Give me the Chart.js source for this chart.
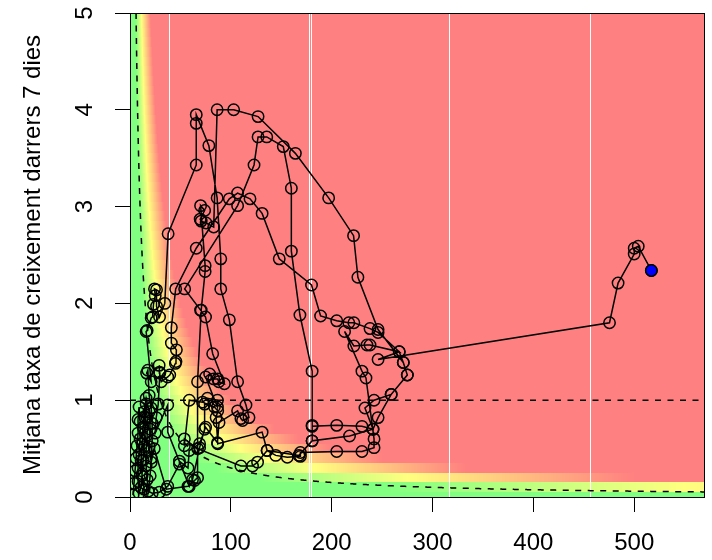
<!DOCTYPE html>
<html>
<head>
<meta charset="utf-8">
<script src="https://cdn.jsdelivr.net/npm/chart.js@4"></script>
<style>
  html, body { margin: 0; padding: 0; background: #fff; }
  canvas { display: block; }
</style>
</head>
<body>
<canvas id="riskChart" width="712" height="560"></canvas>
<script>
// axis ticks
const xTicks = [0, 100, 200, 300, 400, 500];
const yTicks = [0, 1, 2, 3, 4, 5];
const xMax = 570;
const yMax = 5;

// trajectory: incidence (x) and mean 7-day growth rate (y), in time order
const trajX = [
  3, 4, 5, 6, 7, 8, 8, 9, 10, 10, 9, 8, 8, 9, 11, 12, 13, 14, 15, 15, 16, 17, 17, 16, 16, 17, 18, 20, 21, 22, 22, 21, 19,
  17.7, 16.5, 21, 16, 17, 21, 22.4, 23.3, 25, 24.3, 26.3, 26.3, 29.3, 34.5, 37.8, 65.7, 65.7, 65.7, 78.2, 86.4, 90, 90,
  98.5, 106.7, 115, 118, 111.6, 110, 106.7, 88.3, 86.7, 75, 69, 58.7, 57.5, 49, 49, 37.4, 29.2, 22,
  14, 12, 11, 12, 13, 14, 16, 19, 20, 19, 21, 24, 36, 57.5, 64, 67,
  67, 70.6, 74.5, 74.5, 70, 74, 69.6, 70.6, 75.5, 83, 86.4, 102.8, 127, 164, 197, 221.7, 226, 246, 271, 275, 259, 242,
  233, 241, 230, 205, 180.6, 180.6, 167.5, 136, 131, 87, 85.4, 87, 83.7, 74, 74, 69, 62, 58.8, 37.4, 37.4, 25, 26, 28,
  29.6, 28.9, 29.3, 31, 37.4, 39.4, 45, 45.6, 46, 41, 41, 45.3, 65.7, 98.5, 106.7, 119, 131, 148, 180, 189, 205, 217,
  222, 238, 246, 267, 238, 235, 222, 212.8, 230, 234, 242, 242, 230, 205, 169, 169, 156, 144.5, 136, 126.5, 121.5, 110,
  67, 53.9, 53.9, 58.8, 72, 76.8, 86.7, 86.7, 75, 79, 83, 87, 88, 93.6, 82, 74.9, 70, 54.2,
  106.7, 123, 127, 135.6, 152, 160, 160, 168.5, 180.6, 180.6, 180.6, 217.7, 241, 246, 259, 275, 271, 267, 246,
  475.5, 484, 500, 500, 504, 517
];
const trajY = [
  0.02, 0.14, 0.27, 0.4, 0.53, 0.66, 0.8, 0.93, 0.78, 0.6, 0.44, 0.3, 0.16, 0.04, 0.1, 0.24, 0.38, 0.52, 0.66, 0.82, 0.96, 0.82, 0.64, 0.48, 0.32, 0.18, 0.06, 0.22, 0.4, 0.58, 0.76, 0.92, 1.05,
  1.31, 1.28, 1.19, 1.71, 1.72, 1.85, 1.86, 1.99, 2.08, 2.15, 2.14, 1.97, 1.86, 2.0, 2.72, 3.43, 3.86, 3.95, 3.63, 3.09, 2.46, 2.15,
  1.83, 1.19, 0.95, 0.82, 0.79, 0.81, 0.89, 0.77, 0.56, 0.72, 0.55, 0.48, 0.3, 0.37, 0.34, 0.11, 0.05, 0.04,
  0.08, 0.22, 0.38, 0.55, 0.72, 0.88, 1.02, 0.88, 0.7, 0.52, 0.36, 0.5, 0.08, 0.11, 0.17, 0.2,
  1.19, 1.93, 2.33, 2.39, 3.01, 2.96, 2.87, 2.85, 2.83, 2.79, 4.0, 4.0, 3.93, 3.55, 3.09, 2.7, 2.27, 1.73, 1.39, 1.26, 1.06, 1.0,
  0.92, 0.7, 0.73, 0.74, 0.73, 0.58, 0.43, 0.48, 0.67, 0.55, 0.82, 0.89, 0.93, 0.96, 0.7, 0.51, 0.18, 0.11, 0.67, 0.95, 0.66, 0.82, 0.96,
  1.28, 1.36, 1.29, 1.19, 1.24, 1.26, 1.38, 1.4, 1.52, 1.59, 1.75, 2.15, 2.57, 3.08, 3.14, 3.08, 2.93, 2.46, 2.19, 1.87, 1.82, 1.8,
  1.8, 1.74, 1.7, 1.5, 1.57, 1.57, 1.56, 1.71, 1.3, 1.23, 0.6, 0.51, 0.47, 0.47, 0.46, 0.42, 0.41, 0.43, 0.48, 0.36, 0.32, 0.32,
  0.5, 0.6, 0.53, 1.0, 0.98, 1.02, 1.0, 0.93, 1.24, 1.27, 1.22, 1.22, 1.19, 1.17, 1.48, 1.86, 1.93, 2.15,
  3.01, 3.43, 3.72, 3.72, 3.62, 3.19, 2.54, 1.88, 1.3, 0.74, 0.58, 0.63, 0.7, 0.82, 1.06, 1.26, 1.39, 1.5, 1.42,
  1.8, 2.21, 2.51, 2.57, 2.59, 2.34
];

// background risk field: colour by incidence x growth rate
const riskStops = [25, 55, 100];
const riskColors = [[128, 255, 128], [255, 255, 128], [255, 128, 128]];
const epgLine = 30;
const seamX = [39, 177.7, 179.4, 316.5, 456.5];

const points = trajX.map((x, i) => ({ x: x, y: trajY[i] }));
const lastPoint = points[points.length - 1];

function mix(a, b, t) {
  return 'rgb(' + a.map((v, i) => Math.round(v + (b[i] - v) * t)).join(',') + ')';
}
function riskColor(epg) {
  if (epg <= riskStops[0]) return mix(riskColors[0], riskColors[0], 0);
  if (epg <= riskStops[1]) return mix(riskColors[0], riskColors[1], (epg - riskStops[0]) / (riskStops[1] - riskStops[0]));
  if (epg <= riskStops[2]) return mix(riskColors[1], riskColors[2], (epg - riskStops[1]) / (riskStops[2] - riskStops[1]));
  return mix(riskColors[2], riskColors[2], 0);
}

const riskBackground = {
  id: 'riskBackground',
  beforeDatasetsDraw(chart) {
    const { ctx, chartArea: a, scales: { x, y } } = chart;
    ctx.save();
    ctx.beginPath();
    ctx.rect(a.left, a.top, a.right - a.left, a.bottom - a.top);
    ctx.clip();
    // grid of cells, 1 unit wide and 0.1 high
    for (let j = 0; j <= yMax * 10; j++) {
      const yc = j / 10;
      const y0 = Math.round(y.getPixelForValue(yc + 0.05));
      const y1 = Math.round(y.getPixelForValue(yc - 0.05));
      for (let xc = 0; xc <= xMax; xc++) {
        const x0 = Math.round(x.getPixelForValue(xc - 0.5));
        const x1 = Math.round(x.getPixelForValue(xc + 0.5));
        ctx.fillStyle = riskColor(xc * yc);
        ctx.fillRect(x0, y0, x1 - x0, y1 - y0);
      }
    }
    // thin seams in the raster
    ctx.strokeStyle = '#fff';
    ctx.lineWidth = 1;
    seamX.forEach(v => {
      const px = Math.round(x.getPixelForValue(v)) + 0.5;
      ctx.beginPath();
      ctx.moveTo(px, a.top);
      ctx.lineTo(px, a.bottom);
      ctx.stroke();
    });
    // dashed reference lines
    ctx.strokeStyle = '#000';
    ctx.lineWidth = 1.5;
    ctx.setLineDash([6, 6.5]);
    ctx.beginPath();
    ctx.moveTo(a.left, y.getPixelForValue(1));
    ctx.lineTo(a.right, y.getPixelForValue(1));
    ctx.stroke();
    ctx.beginPath();
    for (let v = epgLine / yMax; v <= xMax; v += 0.5) {
      const px = x.getPixelForValue(v);
      const py = y.getPixelForValue(epgLine / v);
      if (v === epgLine / yMax) ctx.moveTo(px, py); else ctx.lineTo(px, py);
    }
    ctx.stroke();
    ctx.restore();
  },
  afterDatasetsDraw(chart) {
    const { ctx, chartArea: a } = chart;
    ctx.save();
    ctx.strokeStyle = '#000';
    ctx.lineWidth = 1;
    ctx.strokeRect(Math.round(a.left) + 0.5, Math.round(a.top) + 0.5,
      Math.round(a.right - a.left) - 1, Math.round(a.bottom - a.top));
    ctx.restore();
  }
};

const axisFont = { family: 'Liberation Sans, Arial, sans-serif', size: 24 };

new Chart(document.getElementById('riskChart'), {
  type: 'scatter',
  data: {
    datasets: [
      {
        data: [lastPoint],
        pointRadius: 5.7,
        pointBackgroundColor: '#0000ff',
        pointBorderColor: '#000',
        pointBorderWidth: 1.5,
        showLine: false
      },
      {
        data: points,
        showLine: true,
        borderColor: '#000',
        borderWidth: 1.5,
        tension: 0,
        pointRadius: 5.7,
        pointBorderWidth: 1.5,
        pointBorderColor: '#000',
        pointBackgroundColor: 'rgba(0,0,0,0)'
      }
    ]
  },
  options: {
    responsive: false,
    animation: false,
    devicePixelRatio: 1,
    layout: { padding: { top: 13, right: 7, left: 0, bottom: 0 } },
    plugins: { legend: { display: false }, tooltip: { enabled: false } },
    scales: {
      x: {
        type: 'linear',
        min: 0,
        max: xMax,
        afterBuildTicks: s => { s.ticks = xTicks.map(v => ({ value: v })); },
        afterFit: s => { s.height = 63; s.paddingLeft = 0; s.paddingRight = 0; },
        grid: { drawOnChartArea: false, drawTicks: true, tickLength: 15, color: '#000', lineWidth: 1 },
        border: { display: true, color: '#000', width: 1 },
        ticks: { color: '#000', font: axisFont, padding: 17, maxRotation: 0, autoSkip: false }
      },
      y: {
        type: 'linear',
        min: 0,
        max: yMax,
        afterBuildTicks: s => { s.ticks = yTicks.map(v => ({ value: v })); },
        afterFit: s => { s.width = 130; s.paddingTop = 0; s.paddingBottom = 0; },
        grid: { drawOnChartArea: false, drawTicks: true, tickLength: 15, color: '#000', lineWidth: 1 },
        border: { display: true, color: '#000', width: 1 },
        ticks: { color: '#000', font: axisFont, padding: 23, minRotation: 90, maxRotation: 90, crossAlign: 'center' },
        title: {
          display: true,
          text: 'Mitjana taxa de creixement darrers 7 dies',
          color: '#000',
          font: axisFont,
          padding: { top: 19, bottom: 0 }
        }
      }
    }
  },
  plugins: [riskBackground]
});
</script>
</body>
</html>
